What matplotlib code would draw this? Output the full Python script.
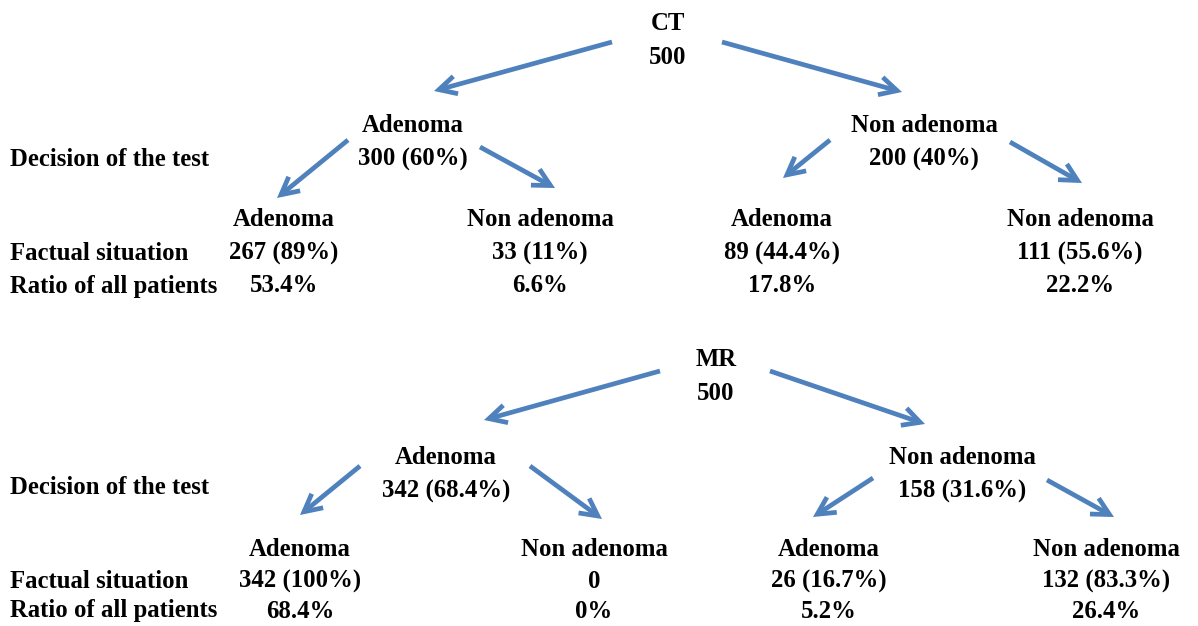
import matplotlib.pyplot as plt

# --- data ---
leaf_names = ["Adenoma", "Non adenoma", "Adenoma", "Non adenoma"]
decision_names = ["Adenoma", "Non adenoma"]
row_names = ["Decision of the test", "Factual situation", "Ratio of all patients"]

ct_total = 500
ct_decision_n = [300, 200]
ct_decision_pct = ["60%", "40%"]
ct_fact_n = [267, 33, 89, 111]
ct_fact_pct = ["89%", "11%", "44.4%", "55.6%"]
ct_ratio = ["53.4%", "6.6%", "17.8%", "22.2%"]

mr_total = 500
mr_decision_n = [342, 158]
mr_decision_pct = ["68.4%", "31.6%"]
mr_fact_n = [342, 0, 26, 132]
mr_fact_pct = ["100%", None, "16.7%", "83.3%"]
mr_ratio = ["68.4%", "0%", "5.2%", "26.4%"]

# --- layout (pixels) ---
ct_layout = dict(root=(668, 24), dec_x=[413, 924], dec_y=125, leaf_x=[284, 540, 782, 1080],
                 leaf_y=220, row_y=[159, 253, 286],
                 arrows=[((612, 42), (434, 91)), ((722, 42), (902, 92)),
                         ((348, 140), (277, 198)), ((480, 147), (555, 188)),
                         ((830, 140), (783, 178)), ((1010, 142), (1082, 183))])
mr_layout = dict(root=(716, 360), dec_x=[446, 962], dec_y=457, leaf_x=[300, 594, 829, 1106],
                 leaf_y=550, row_y=[488, 581, 611],
                 arrows=[((660, 371), (484, 420)), ((770, 371), (925, 424)),
                         ((360, 466), (300, 515)), ((530, 466), (602, 519)),
                         ((873, 478), (813, 517)), ((1047, 480), (1114, 517))])

blue = "#4F81BD"
font = dict(family="Liberation Serif", fontsize=17.8, fontweight="bold", color="black")
line_gap = 34

fig = plt.figure(figsize=(11.98, 6.26), dpi=100)
ax = fig.add_axes([0, 0, 1, 1])
ax.set_xlim(0, 1198)
ax.set_ylim(626, 0)
ax.axis("off")


def draw_tree(name, total, dec_n, dec_pct, fact_n, fact_pct, ratio, lay):
    rx, ry = lay["root"]
    ax.text(rx, ry, name, ha="center", va="center", **font)
    ax.text(rx, ry + line_gap, str(total), ha="center", va="center", **font)
    for i, x in enumerate(lay["dec_x"]):
        ax.text(x, lay["dec_y"], decision_names[i], ha="center", va="center", **font)
        ax.text(x, lay["dec_y"] + line_gap, "%d (%s)" % (dec_n[i], dec_pct[i]),
                ha="center", va="center", **font)
    for i, x in enumerate(lay["leaf_x"]):
        ax.text(x, lay["leaf_y"], leaf_names[i], ha="center", va="center", **font)
        if fact_pct[i] is None:
            s = str(fact_n[i])
        else:
            s = "%d (%s)" % (fact_n[i], fact_pct[i])
        ax.text(x, lay["row_y"][1], s, ha="center", va="center", **font)
        ax.text(x, lay["row_y"][2], ratio[i], ha="center", va="center", **font)
    for j, y in enumerate(lay["row_y"]):
        ax.text(10, y, row_names[j], ha="left", va="center", **font)
    for start, end in lay["arrows"]:
        ax.annotate("", xy=end, xytext=start,
                    arrowprops=dict(arrowstyle="->,head_length=1.25,head_width=0.65",
                                    color=blue, lw=3.4, shrinkA=0, shrinkB=0,
                                    joinstyle="miter", capstyle="butt"))


draw_tree("CT", ct_total, ct_decision_n, ct_decision_pct, ct_fact_n, ct_fact_pct, ct_ratio, ct_layout)
draw_tree("MR", mr_total, mr_decision_n, mr_decision_pct, mr_fact_n, mr_fact_pct, mr_ratio, mr_layout)

fig.savefig("out.png", dpi=100, facecolor="white")
